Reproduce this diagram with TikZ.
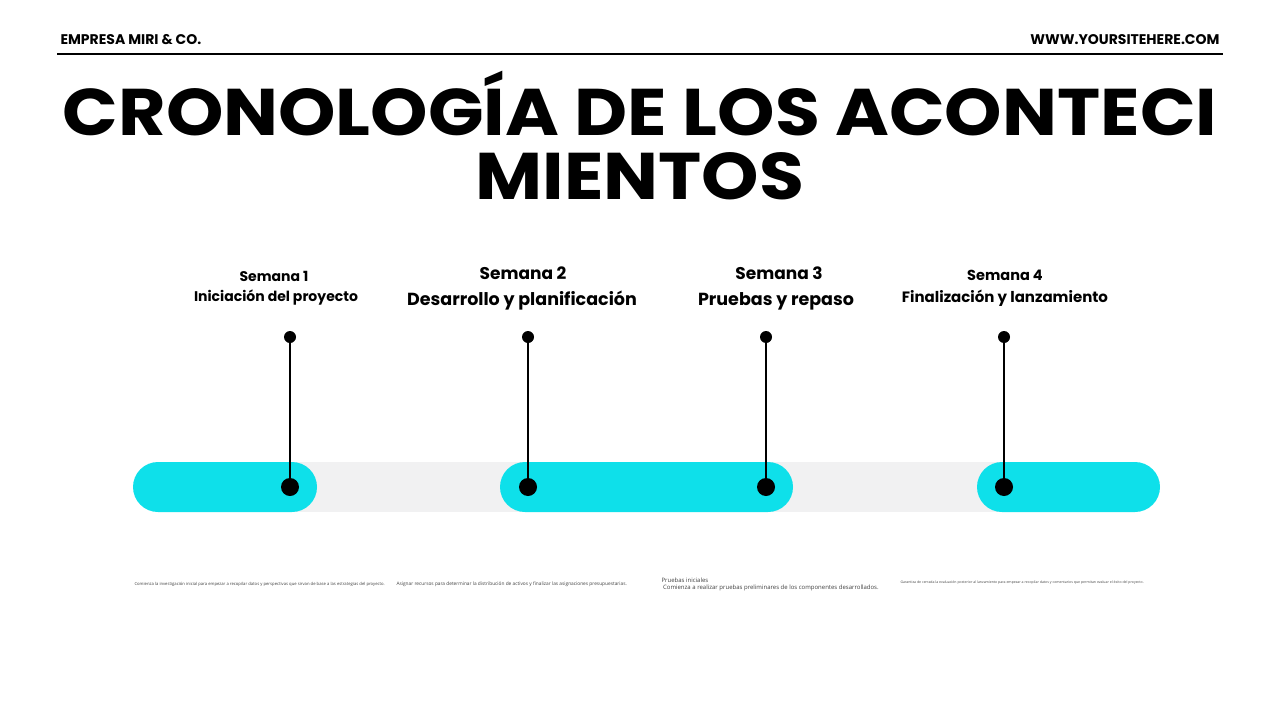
\documentclass[tikz,border=0pt]{standalone}
\usepackage{fontspec}
\setmainfont{Poppins}
\newfontfamily\bodyf{Open Sans}
\definecolor{cy}{HTML}{0EE0EA}
\definecolor{gbar}{HTML}{F1F1F2}
\begin{document}
\begin{tikzpicture}[x=1pt,y=-1pt,
  hd/.style={font=\fontsize{14}{16}\selectfont\bfseries},
  ttl/.style={font=\fontsize{66}{70}\selectfont\bfseries,align=center,xscale=1.107},
  wk/.style={font=\fontsize{#1}{#1}\selectfont\bfseries},
  desc/.style={font=\bodyf\fontsize{#1}{#1}\selectfont\color{black!75},anchor=west},
  dot/.style={circle,fill=black,inner sep=0pt,minimum size=#1}]
\useasboundingbox (0,0) rectangle (1280,720);
\node[hd,anchor=west] (co) at (57,40) {EMPRESA MIRI \& CO.};
\node[hd,anchor=east] (web) at (1223,40) {WWW.YOURSITEHERE.COM};
\draw[line width=1.3pt] (57,54) -- (1223,54);
\node[ttl] (t1) at (640,104) {CRONOLOGÍA DE LOS ACONTECI};
\node[ttl] (t2) at (640,176) {MIENTOS};
% bars
\fill[gbar] (158,462) rectangle (1135,512);
\fill[cy, rounded corners=25pt] (133,462) rectangle (317,512);
\fill[cy, rounded corners=25pt] (500,462) rectangle (793,512);
\fill[cy, rounded corners=25pt] (977,462) rectangle (1160,512);
% labels
\node[wk=14] (s1) at (274,276) {Semana 1};
\node[wk=14] (l1) at (276,298) {Iniciación del proyecto};
\node[wk=17] (s2) at (523,273) {Semana 2};
\node[wk=17.5] (l2) at (522,301) {Desarrollo y planificación};
\node[wk=17] (s3) at (779,273) {Semana 3};
\node[wk=17.5] (l3) at (776,301) {Pruebas y repaso};
\node[wk=14.5] (s4) at (1005,275) {Semana 4};
\node[wk=15] (l4) at (1005,298) {Finalización y lanzamiento};
% markers
\foreach \i/\x in {1/290,2/528,3/766,4/1004}{
  \node[dot=12pt] (a\i) at (\x,337) {};
  \node[dot=18pt] (b\i) at (\x,487) {};
  \draw[line width=1.2pt] (a\i.center) -- (b\i.center);
}
% descriptions
\node[desc=4.2] (d1) at (131,584) {Comienza la investigación inicial para empezar a recopilar datos y perspectivas que sirvan de base a las estrategias del proyecto.};
\node[desc=4.8] (d2) at (393,584) {Asignar recursos para determinar la distribución de activos y finalizar las asignaciones presupuestarias.};
\node[desc=6] (d3a) at (658,580) {Pruebas iniciales};
\node[desc=6] (d3b) at (658,588) {\ Comienza a realizar pruebas preliminares de los componentes desarrollados.};
\node[desc=3.5] (d4) at (897,583) {Garantiza de cerrada la evaluación posterior al lanzamiento para empezar a recopilar datos y comentarios que permitan evaluar el éxito del proyecto.};
\end{tikzpicture}
\end{document}
